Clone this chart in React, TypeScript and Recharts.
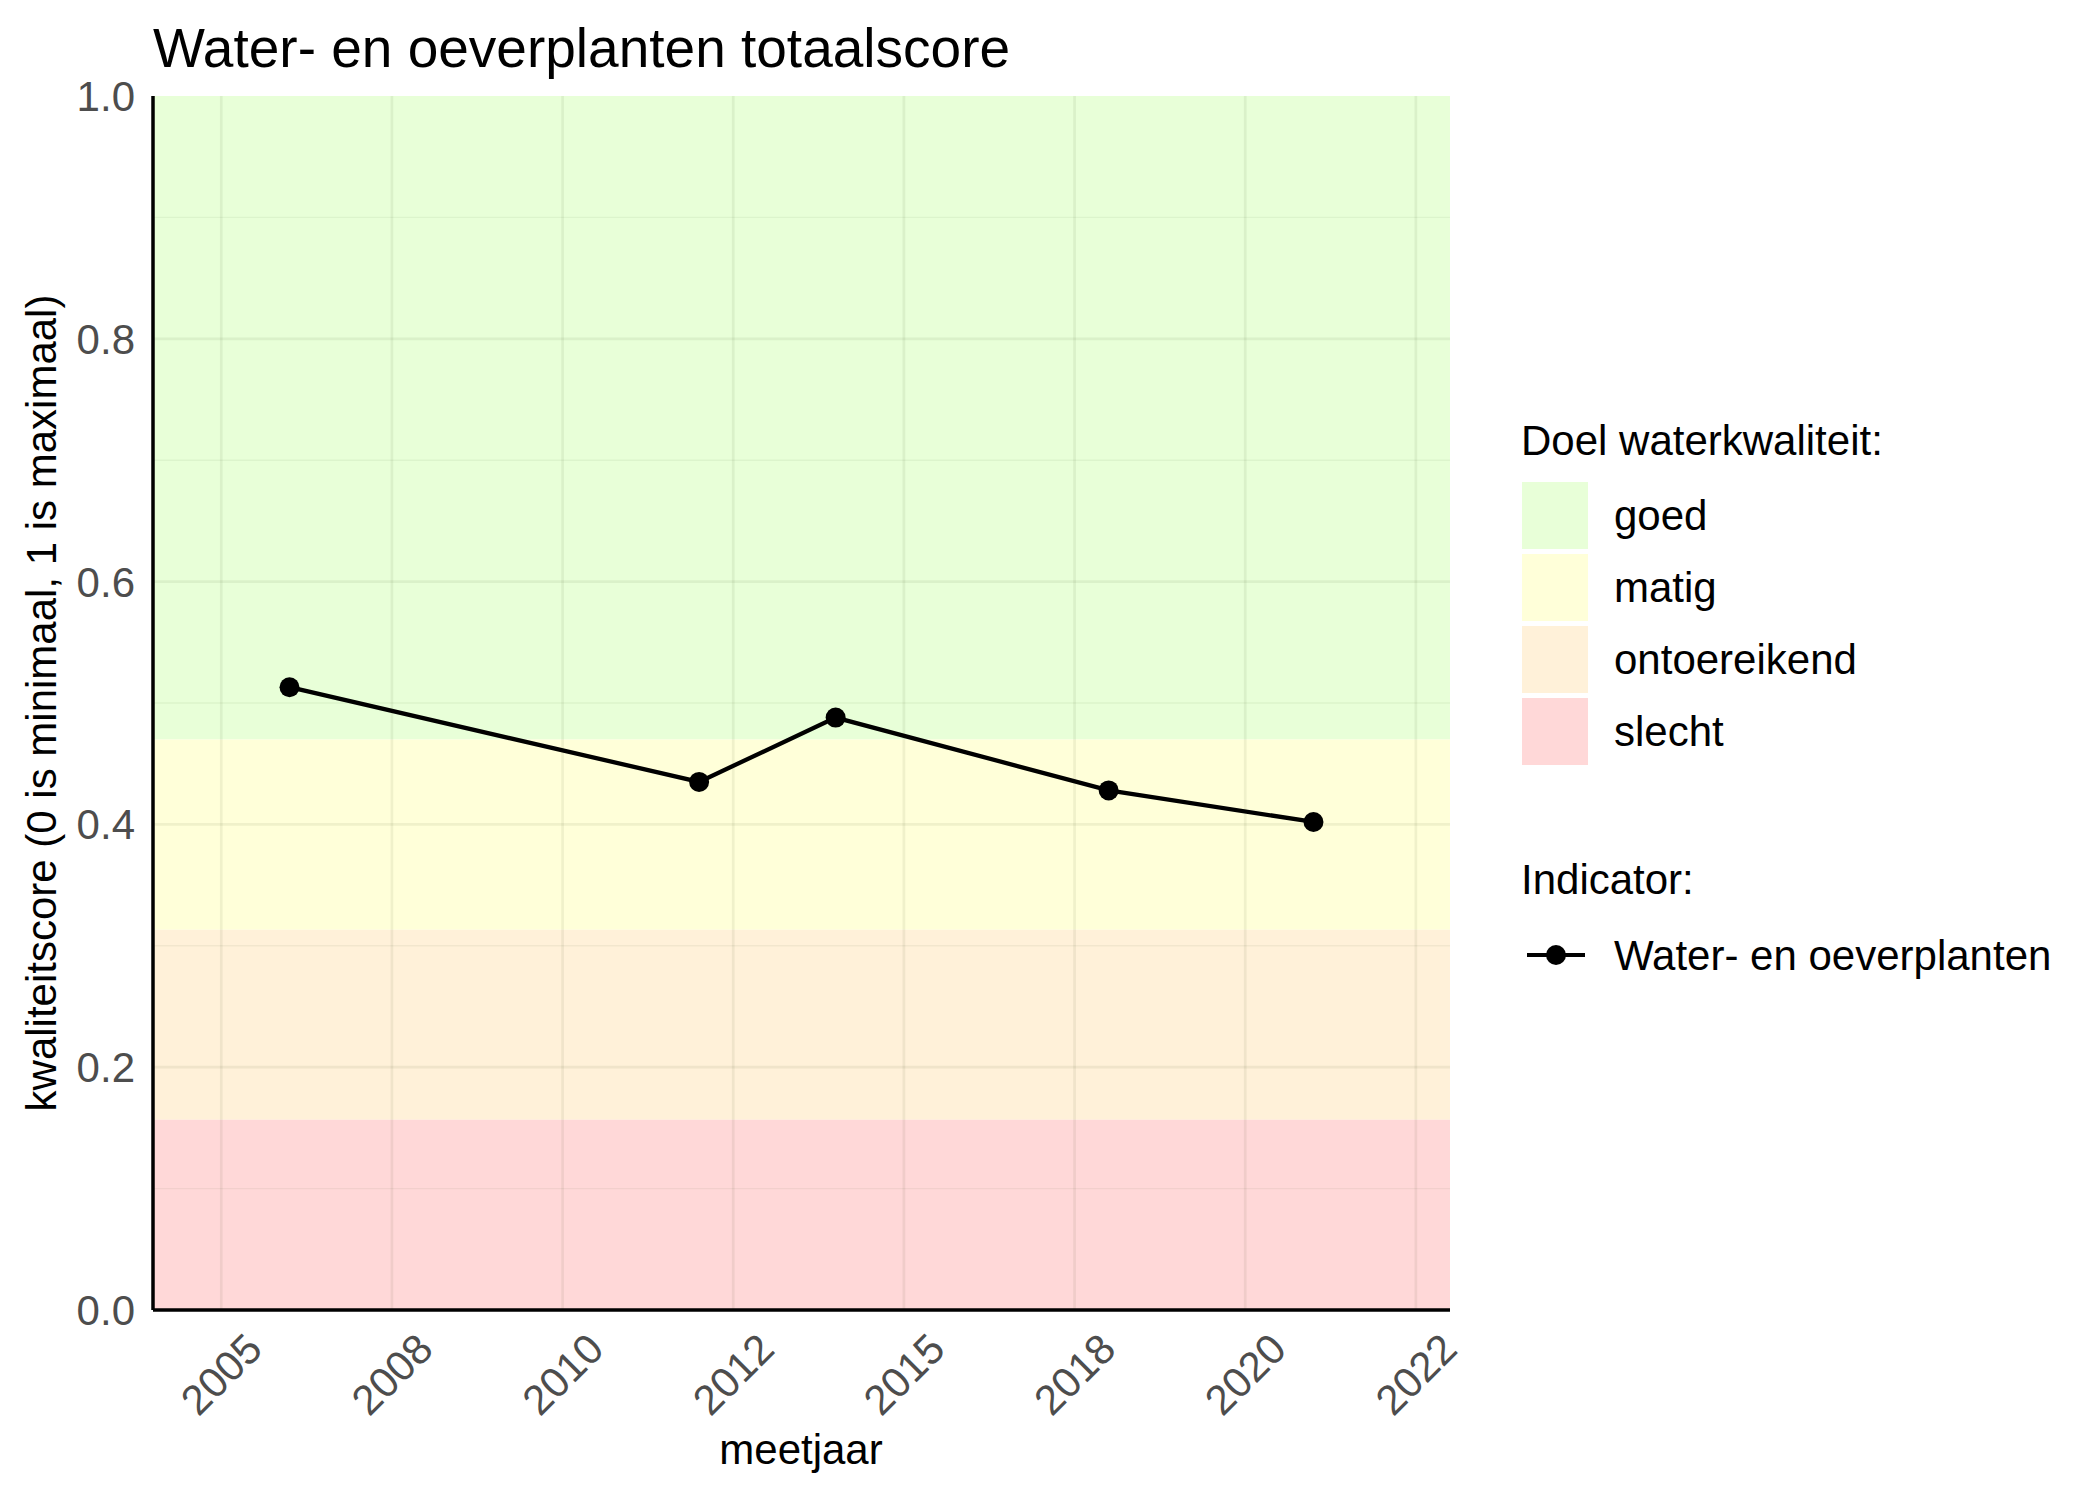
import React from "react"
import {
  LineChart,
  Line,
  XAxis,
  YAxis,
  ReferenceArea,
  ReferenceLine
} from "recharts"

// measured values
const years = [2006, 2012, 2014, 2018, 2021]
const scores = [0.513, 0.435, 0.488, 0.428, 0.402]

// x breaks every 2.5 years, labels as printed in the reference
const xTicks = [2005, 2007.5, 2010, 2012.5, 2015, 2017.5, 2020, 2022.5]
const xTickLabels = ["2005", "2008", "2010", "2012", "2015", "2018", "2020", "2022"]

const yTicks = [0, 0.2, 0.4, 0.6, 0.8, 1.0]
const yMinorTicks = [0.1, 0.3, 0.5, 0.7, 0.9]

// quality classes (target bands)
const bandNames = ["goed", "matig", "ontoereikend", "slecht"]
const bandLow = [0.47, 0.3133, 0.1567, 0]
const bandHigh = [1, 0.47, 0.3133, 0.1567]
const bandColors = ["#E8FFD8", "#FFFFD9", "#FFF1D9", "#FFD8D8"]

const seriesName = "Water- en oeverplanten"

const FONT = '"Liberation Sans", Arial, sans-serif'

const chartData = years.map((year, i) => ({ year, score: scores[i] }))

const XTick = (props: any) => {
  const { x, y, payload } = props
  const idx = xTicks.indexOf(payload.value)
  const ax = x + 22
  const ay = y + 18
  return (
    <text
      x={ax}
      y={ay}
      dy="0.72em"
      textAnchor="end"
      transform={`rotate(-45, ${ax}, ${ay})`}
      fontSize={42}
      fontFamily={FONT}
      fill="#4D4D4D"
    >
      {idx >= 0 ? xTickLabels[idx] : payload.value}
    </text>
  )
}

export default function App() {
  return (
    <div style={{ position: "absolute", left: 0, top: 0, width: 2100, height: 1500, background: "#fff", fontFamily: FONT }}>
      <LineChart
        width={2100}
        height={1500}
        data={chartData}
        margin={{ top: 96, right: 650, bottom: 0, left: 0 }}
      >
        <XAxis
          dataKey="year"
          type="number"
          domain={[2004, 2023]}
          ticks={xTicks}
          interval={0}
          allowDataOverflow
          height={190}
          tickLine={false}
          tickSize={0}
          axisLine={{ stroke: "#000", strokeWidth: 3.5 }}
          tick={<XTick />}
        />
        <YAxis
          type="number"
          domain={[0, 1]}
          ticks={yTicks}
          interval={0}
          allowDataOverflow
          width={153}
          tickLine={false}
          tickSize={0}
          tickMargin={18}
          axisLine={{ stroke: "#000", strokeWidth: 3.5 }}
          tick={{ fontSize: 42, fill: "#4D4D4D", fontFamily: FONT }}
          tickFormatter={(v: number) => v.toFixed(1)}
        />

        {bandNames.map((name, i) => (
          <ReferenceArea
            key={name}
            y1={bandLow[i]}
            y2={bandHigh[i]}
            x1={2004}
            x2={2023}
            fill={bandColors[i]}
            fillOpacity={1}
            stroke="none"
            ifOverflow="hidden"
          />
        ))}

        {yMinorTicks.map((v) => (
          <ReferenceLine key={"ym" + v} y={v} stroke="rgba(40,60,20,0.06)" strokeWidth={1.4} />
        ))}
        {yTicks.slice(1, -1).map((v) => (
          <ReferenceLine key={"y" + v} y={v} stroke="rgba(40,60,20,0.07)" strokeWidth={2.7} />
        ))}
        {xTicks.map((v) => (
          <ReferenceLine key={"x" + v} x={v} stroke="rgba(40,60,20,0.07)" strokeWidth={2.7} />
        ))}

        <Line
          type="linear"
          dataKey="score"
          name={seriesName}
          stroke="#000"
          strokeWidth={4.3}
          dot={{ r: 10, fill: "#000", stroke: "none" }}
          activeDot={false}
          isAnimationActive={false}
        />
      </LineChart>

      {/* titles and legend */}
      <svg
        width={2100}
        height={1500}
        style={{ position: "absolute", left: 0, top: 0, pointerEvents: "none" }}
        fontFamily={FONT}
      >
        <text x={153} y={67} fontSize={55} fill="#000">
          Water- en oeverplanten totaalscore
        </text>
        <text
          x={56}
          y={703}
          fontSize={42}
          fill="#000"
          textAnchor="middle"
          transform="rotate(-90, 56, 703)"
        >
          kwaliteitscore (0 is minimaal, 1 is maximaal)
        </text>
        <text x={801} y={1464} fontSize={42} fill="#000" textAnchor="middle">
          meetjaar
        </text>

        <text x={1521} y={455} fontSize={42} fill="#000">
          Doel waterkwaliteit:
        </text>
        {bandNames.map((name, i) => (
          <g key={name}>
            <rect x={1522} y={482 + i * 72} width={66} height={67} fill={bandColors[i]} />
            <text x={1614} y={482 + i * 72 + 48} fontSize={42} fill="#000">
              {name}
            </text>
          </g>
        ))}

        <text x={1521} y={894} fontSize={42} fill="#000">
          Indicator:
        </text>
        <line x1={1527} x2={1585} y1={955} y2={955} stroke="#000" strokeWidth={4} />
        <circle cx={1556} cy={955} r={10} fill="#000" />
        <text x={1614} y={970} fontSize={42} fill="#000">
          {seriesName}
        </text>
      </svg>
    </div>
  )
}
